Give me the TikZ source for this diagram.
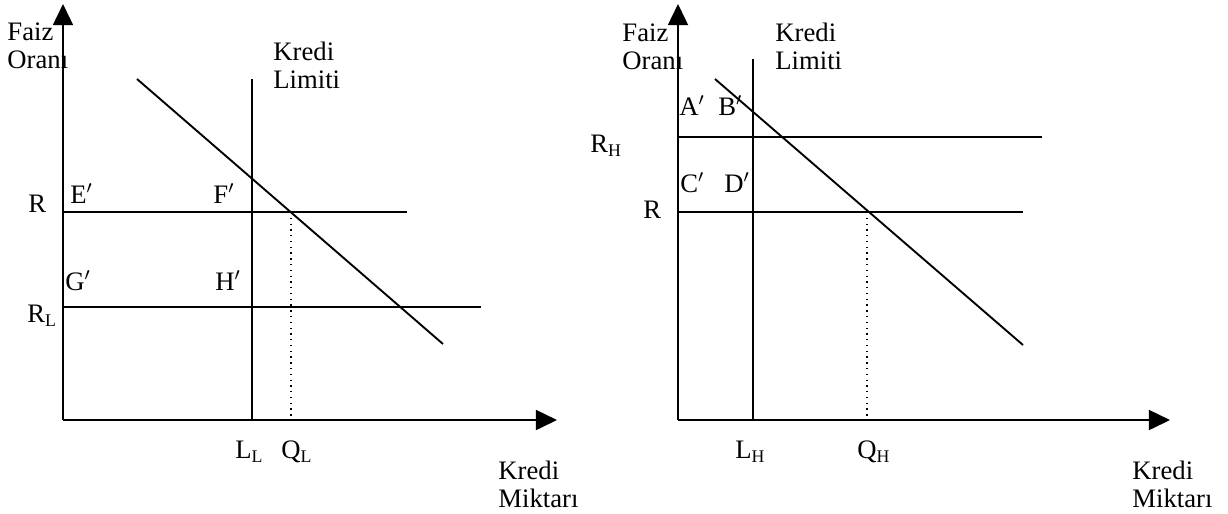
\documentclass[tikz,border=0pt]{standalone}
\usepackage{fontspec}
\setmainfont{Liberation Serif}
\usetikzlibrary{arrows.meta}
\tikzset{
  axis/.style={line width=0.85pt, -{Triangle[length=9.5pt, width=9pt]}},
  mline/.style={line width=0.85pt},
  guide/.style={line width=0.6pt, dotted},
  lbl/.style={inner sep=0pt, anchor=base west, align=left,
    font=\fontsize{12}{12.2}\selectfont},
}
\newcommand{\pr}{$'$}

\begin{document}
\begin{tikzpicture}[x=0.45pt, y=-0.45pt]
  \useasboundingbox (0,0) rectangle (1228,513);

  % left panel: kredi limiti below R
  \coordinate (oL) at (63,420);
  \draw[axis] (oL) -- (63,4);
  \draw[axis] (oL) -- (557,420);
  \draw[mline] (63,212) -- (407,212);
  \draw[mline] (63,307) -- (481,307);
  \draw[mline] (252,79) -- (252,420);
  \draw[guide] (291,212) -- (291,420);
  \draw[mline] (137,79) -- (443,344);

  \node[lbl] (faizL)   at (7,68)    {Faiz\\Oranı};
  \node[lbl] (limitL)  at (273,88)  {Kredi\\Limiti};
  \node[lbl] (rL)      at (28,212)  {R};
  \node[lbl] (rlowL)   at (27,322)  {R\textsubscript{L}};
  \node[lbl] (eL)      at (70,203)  {E\pr};
  \node[lbl] (fL)      at (213,203) {F\pr};
  \node[lbl] (gL)      at (65,290)  {G\pr};
  \node[lbl] (hL)      at (215,290) {H\pr};
  \node[lbl] (llL)     at (235,458) {L\textsubscript{L}};
  \node[lbl] (qlL)     at (281,458) {Q\textsubscript{L}};
  \node[lbl] (miktarL) at (498,507) {Kredi\\Miktarı};

  % right panel: kredi limiti above R
  \coordinate (oR) at (678,420);
  \draw[axis] (oR) -- (678,4);
  \draw[axis] (oR) -- (1170,420);
  \draw[mline] (678,137) -- (1042,137);
  \draw[mline] (678,212) -- (1023,212);
  \draw[mline] (753,59) -- (753,420);
  \draw[guide] (867,212) -- (867,420);
  \draw[mline] (715,79) -- (1023,345);

  \node[lbl] (faizR)   at (622,69)  {Faiz\\Oranı};
  \node[lbl] (limitR)  at (775,69)  {Kredi\\Limiti};
  \node[lbl] (rhR)     at (590,152) {R\textsubscript{H}};
  \node[lbl] (rR)      at (643,218) {R};
  \node[lbl] (aR)      at (679,115) {A\pr};
  \node[lbl] (bR)      at (718,115) {B\pr};
  \node[lbl] (cR)      at (680,192) {C\pr};
  \node[lbl] (dR)      at (724,192) {D\pr};
  \node[lbl] (lhR)     at (735,458) {L\textsubscript{H}};
  \node[lbl] (qhR)     at (857,458) {Q\textsubscript{H}};
  \node[lbl] (miktarR) at (1132,507) {Kredi\\Miktarı};
\end{tikzpicture}
\end{document}
